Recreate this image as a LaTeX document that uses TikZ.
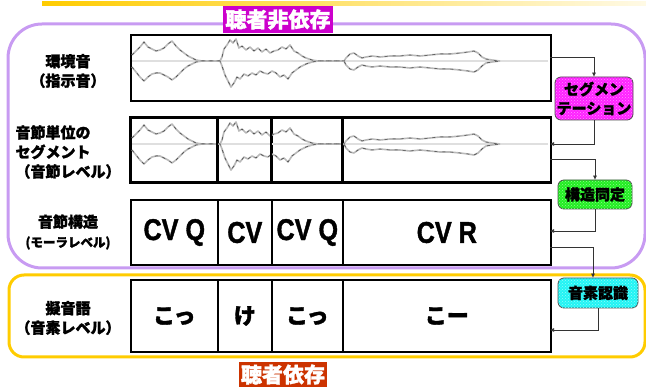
\documentclass[tikz,border=0pt]{standalone}
\usepackage{fontspec}
\usepackage{graphicx}
\setmainfont{Noto Sans CJK JP}[BoldFeatures={FakeBold=1.6}]
\newfontfamily\latf{Liberation Sans}[BoldFeatures={FakeBold=1.4}]
\usetikzlibrary{patterns,arrows.meta}
\definecolor{purp}{HTML}{C89BF2}
\definecolor{goldc}{HTML}{FFCC00}
\definecolor{magt}{HTML}{CC00CC}
\definecolor{rust}{HTML}{CC3300}
\definecolor{segc}{HTML}{FF22FF}
\definecolor{strc}{HTML}{22EE22}
\definecolor{phoc}{HTML}{22F4F4}
\newcommand\cvtext[1]{\scalebox{0.84}[1]{\latf\bfseries\fontsize{30}{30}\selectfont #1}}
\newcommand\mywave{%
  \draw[flatline] (132,0) -- (548,0);
  \foreach \ws in {wave,wavedark}{
  \draw[\ws] (132,-6) -- (136,-10) -- (140,-14) -- (144,-19) -- (148,-14) -- (152,-12) -- (156,-10) -- (160,-11) -- (164,-13) -- (168,-17) -- (172,-20) -- (176,-15) -- (180,-11) -- (184,-8) -- (188,-5) -- (192,-3) -- (196,-1) -- (202,0) -- (220,0)
    -- (222,-4) -- (224,-12) -- (227,-16) -- (230,-21) -- (233,-18) -- (236,-22) -- (239,-13) -- (242,-15) -- (246,-11) -- (250,-14) -- (254,-10) -- (258,-13) -- (262,-9) -- (266,-12) -- (270,-8) -- (274,-10) -- (278,-11) -- (282,-14) -- (286,-12) -- (290,-16) -- (294,-10) -- (298,-8) -- (302,-5) -- (306,-3) -- (312,-1) -- (318,0) -- (344,0)
    -- (346,-3) -- (350,-7) -- (354,-8) -- (358,-5) -- (362,-3) -- (366,-4) -- (372,-5) -- (380,-4) -- (390,-5) -- (400,-5) -- (410,-6) -- (420,-5) -- (430,-6) -- (440,-7) -- (450,-7) -- (460,-8) -- (468,-9) -- (474,-10) -- (478,-8) -- (482,-4) -- (486,-2) -- (492,-1) -- (500,0);
  \draw[\ws] (132,6) -- (136,11) -- (140,16) -- (144,20) -- (148,16) -- (152,13) -- (156,12) -- (160,12) -- (164,14) -- (168,16) -- (172,19) -- (176,16) -- (180,12) -- (184,8) -- (188,5) -- (192,3) -- (196,1) -- (202,0) -- (220,0)
    -- (222,5) -- (225,14) -- (228,20) -- (231,26) -- (234,22) -- (237,16) -- (240,18) -- (244,13) -- (248,15) -- (252,12) -- (256,14) -- (260,10) -- (264,12) -- (268,13) -- (272,10) -- (276,12) -- (280,16) -- (284,14) -- (288,18) -- (292,12) -- (296,9) -- (300,6) -- (306,3) -- (312,1) -- (318,0) -- (344,0)
    -- (346,4) -- (350,8) -- (354,9) -- (358,6) -- (362,4) -- (366,5) -- (372,6) -- (380,5) -- (390,6) -- (400,6) -- (410,7) -- (420,6) -- (430,7) -- (440,8) -- (450,8) -- (460,9) -- (468,10) -- (474,11) -- (478,9) -- (482,5) -- (486,2) -- (492,1) -- (500,0);
  }
}
\begin{document}
\begin{tikzpicture}[x=1pt,y=-1pt,
  cell/.style={draw=black, line width=1.6pt, inner sep=0pt, anchor=west},
  wave/.style={draw=gray!55, line width=1.6pt, line join=round},
  wavedark/.style={draw=black!75, line width=0.5pt, line join=round, dash pattern=on 3pt off 5pt},
  flatline/.style={draw=gray!25, line width=1.6pt},
  lab/.style={font=\bfseries\fontsize{15}{19.5}\selectfont, align=center, inner sep=0pt},
  cvt/.style={inner sep=0pt},
  kana/.style={font=\bfseries\fontsize{22}{22}\selectfont},
  proc/.style={draw=black!70, line width=0.8pt, rounded corners=6pt, inner sep=0pt,
    font=\bfseries\fontsize{15}{19}\selectfont, align=center},
  title/.style={text=white, inner sep=0pt, font=\bfseries\fontsize{21}{21}\selectfont},
  conn/.style={draw=black!80, line width=0.7pt},
  arr/.style={conn, -{Triangle[length=4pt,width=3.5pt]}}]
\useasboundingbox (0,0) rectangle (646,387);
% top gold line
\shade[left color=goldc, middle color=goldc!75, right color=goldc!10] (42,2) rectangle (646,6);
% group frames
\draw[purp, line width=3pt, rounded corners=34pt] (8,24) rectangle (645,268);
\draw[goldc, line width=3pt, rounded corners=15pt] (9,275) rectangle (645,357);
% titles
\node[title, fill=magt, minimum width=110pt, minimum height=27pt] (t1) at (278,19.5) {聴者非依存};
\node[title, fill=rust, minimum width=88pt, minimum height=25pt] (t2) at (283,374.5) {聴者依存};
% row 1
\node[cell, minimum width=420pt, minimum height=66pt] (w1) at (130,68) {};
\begin{scope}[shift={(0,61)}]\mywave\end{scope}
% row 2
\node[cell, minimum width=87pt, minimum height=64pt] (c21) at (130,150) {};
\node[cell, minimum width=54pt, minimum height=64pt] (c22) at (217,150) {};
\node[cell, minimum width=71pt, minimum height=64pt] (c23) at (271,150) {};
\node[cell, minimum width=208pt, minimum height=64pt] (c24) at (342,150) {};
\begin{scope}[shift={(0,144)}]\mywave\end{scope}
\draw[line width=1.6pt] (c21.north west) rectangle (c24.south east);
\draw[line width=1.6pt] (c22.north west) -- (c22.south west) (c23.north west) -- (c23.south west) (c24.north west) -- (c24.south west);
% row 3
\node[cell, minimum width=87pt, minimum height=65pt] (c31) at (130,232.5) {};
\node[cell, minimum width=54pt, minimum height=65pt] (c32) at (217,232.5) {};
\node[cell, minimum width=71pt, minimum height=65pt] (c33) at (271,232.5) {};
\node[cell, minimum width=208pt, minimum height=65pt] (c34) at (342,232.5) {};
\node[cvt] at (c31.center) {\cvtext{CV Q}};
\node[cvt] at (c32.center) {\cvtext{CV}};
\node[cvt] at (c33.center) {\cvtext{CV Q}};
\node[cvt] at (c34.center) {\cvtext{CV R}};
% row 4
\node[cell, minimum width=87pt, minimum height=72pt] (c41) at (130,316) {};
\node[cell, minimum width=54pt, minimum height=72pt] (c42) at (217,316) {};
\node[cell, minimum width=71pt, minimum height=72pt] (c43) at (271,316) {};
\node[cell, minimum width=208pt, minimum height=72pt] (c44) at (342,316) {};
\node[kana] at (c41.center) {こっ};
\node[kana] at (c42.center) {け};
\node[kana] at (c43.center) {こっ};
\node[kana] at (c44.center) {こー};
% row labels
\node[lab] (l1) at (68,71) {環境音\\（指示音）};
\node[lab, align=left] (l2) at (68,152) {音節単位の\\セグメント\\（音節レベル）};
\node[lab] (l3) at (68,232) {音節構造\\{\fontsize{12.5}{14}\selectfont (モーラレベル)}};
\node[lab] (l4) at (68,318) {擬音語\\（音素レベル）};
% process boxes
\node[proc, fill=segc, postaction={pattern=crosshatch dots, pattern color=white!50!segc}, minimum width=78pt, minimum height=43pt] (seg) at (594,98.5) {};
\node[proc, fill=strc, postaction={pattern=crosshatch dots, pattern color=white!50!strc}, minimum width=74pt, minimum height=29pt] (str) at (595,194.5) {};
\node[proc, fill=phoc, postaction={pattern=crosshatch dots, pattern color=white!50!phoc}, minimum width=80pt, minimum height=30pt] (pho) at (598,293) {};
\node[proc, draw=none, fill=none] (segt) at (seg.center) {セグメン\\テーション};
\node[proc, draw=none, fill=none] (strt) at (str.center) {構造同定};
\node[proc, draw=none, fill=none] (phot) at (pho.center) {音素認識};
% ports
\coordinate (o1) at (550,57);
\coordinate (i2) at (550,144);
\coordinate (o2) at (550,159);
\coordinate (i3) at (550,231);
\coordinate (o3) at (550,247);
\coordinate (i4) at (550,330);
\draw[arr] (o1) -| (seg.north);
\draw[arr] (seg.south) |- (i2);
\draw[arr] (o2) -| (str.north);
\draw[arr] (str.south) |- (i3);
\draw[arr] (o3) -| ([xshift=-5pt]pho.north);
\draw[arr] (pho.south) |- (i4);
\end{tikzpicture}
\end{document}
